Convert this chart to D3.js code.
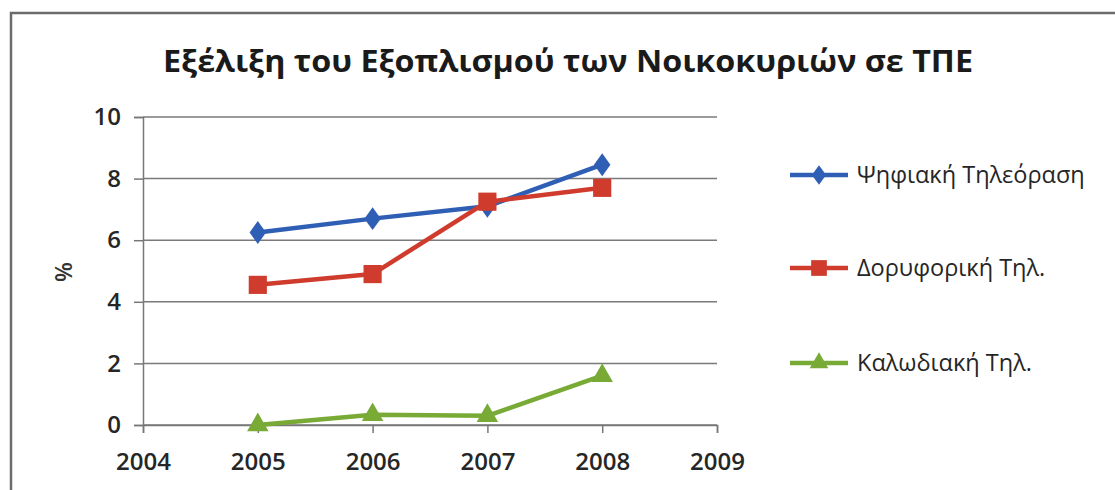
<!DOCTYPE html>
<html>
<head>
<meta charset="utf-8">
<script src="https://cdn.jsdelivr.net/npm/d3@7"></script>
<style>
	body { margin: 0; background: #fff; }
	text { font-family: "Open Sans", "Noto Sans", sans-serif; fill: #262626; }
</style>
</head>
<body>
<div id="chart"></div>
<script>
const years = [2005, 2006, 2007, 2008];
const seriesNames = ['Ψηφιακή Τηλεόραση', 'Δορυφορική Τηλ.', 'Καλωδιακή Τηλ.'];
const digitalTv = [6.25, 6.7, 7.1, 8.45];
const satelliteTv = [4.55, 4.9, 7.25, 7.7];
const cableTv = [0, 0.33, 0.3, 1.6];
const yTicks = [0, 2, 4, 6, 8, 10];
const xTicks = [2004, 2005, 2006, 2007, 2008, 2009];
const title = 'Εξέλιξη του Εξοπλισμού των Νοικοκυριών σε ΤΠΕ';

const width = 1115;
const height = 490;
const margin = { top: 117, right: 398, bottom: 65, left: 143 };

const svg = d3.select('#chart').append('svg')
	.attr('width', width)
	.attr('height', height);

// outer frame, runs off the right and bottom edge like the scan
svg.append('rect')
	.attr('x', 11).attr('y', 13)
	.attr('width', 1200).attr('height', 600)
	.attr('fill', 'none')
	.attr('stroke', '#6b6b6b')
	.attr('stroke-width', 2.5);

svg.append('text')
	.attr('x', 568).attr('y', 72)
	.attr('text-anchor', 'middle')
	.attr('textLength', 810)
	.attr('lengthAdjust', 'spacingAndGlyphs')
	.style('font-size', '30px')
	.style('font-weight', 'bold')
	.style('fill', '#1a1a1a')
	.text(title);

const x = d3.scaleLinear()
	.domain([2004, 2009])
	.range([margin.left, width - margin.right]);
const y = d3.scaleLinear()
	.domain([0, 10])
	.range([height - margin.bottom, margin.top]);

// y ticks, gridlines below
const yAxis = svg.append('g')
	.attr('transform', `translate(${margin.left},0)`)
	.call(d3.axisLeft(y).tickValues(yTicks).tickSize(9).tickPadding(13).tickFormat(d3.format('d')));
yAxis.select('.domain').attr('stroke', '#777').attr('stroke-width', 1.5);
yAxis.selectAll('.tick line').attr('stroke', '#777').attr('stroke-width', 1.5);
yAxis.selectAll('.tick text')
	.style('font-size', '24px')
	.style('font-family', '"Open Sans", sans-serif')
	.style('font-weight', 600)
	.attr('fill', '#333');

svg.append('g')
	.selectAll('line')
	.data(yTicks)
	.enter().append('line')
		.attr('x1', margin.left)
		.attr('x2', width - margin.right)
		.attr('y1', d => y(d))
		.attr('y2', d => y(d))
		.attr('stroke', '#7a7a7a')
		.attr('stroke-width', 1.5);

const xAxis = svg.append('g')
	.attr('transform', `translate(0,${height - margin.bottom})`)
	.call(d3.axisBottom(x).tickValues(xTicks).tickSize(8).tickPadding(20).tickFormat(d3.format('d')));
xAxis.select('.domain').attr('stroke', '#777').attr('stroke-width', 1.5);
xAxis.selectAll('.tick line').attr('stroke', '#777').attr('stroke-width', 1.5);
xAxis.selectAll('.tick text')
	.style('font-size', '24px')
	.style('font-family', '"Open Sans", sans-serif')
	.style('font-weight', 600)
	.attr('fill', '#333');

svg.append('text')
	.attr('transform', 'translate(72,272) rotate(-90)')
	.attr('text-anchor', 'middle')
	.style('font-size', '23px')
	.style('font-weight', 600)
	.style('fill', '#333')
	.text('%');

const series = [
	{ name: seriesNames[0], values: digitalTv, color: '#2f5fb5', symbol: d3.symbolDiamond, size: 150 },
	{ name: seriesNames[1], values: satelliteTv, color: '#cf3c2e', symbol: d3.symbolSquare, size: 330 },
	{ name: seriesNames[2], values: cableTv, color: '#78aa35', symbol: d3.symbolTriangle, size: 200 },
];

const line = d3.line()
	.x((d, i) => x(years[i]))
	.y(d => y(d));

series.forEach(s => {
	const g = svg.append('g');
	g.append('path')
		.attr('d', line(s.values))
		.attr('fill', 'none')
		.attr('stroke', s.color)
		.attr('stroke-width', 4.5)
		.attr('stroke-linejoin', 'round');
	g.selectAll('path.marker')
		.data(s.values)
		.enter().append('path')
			.attr('class', 'marker')
			.attr('d', d3.symbol().type(s.symbol).size(s.size))
			.attr('transform', (d, i) => `translate(${x(years[i])},${y(d)})` + (s.symbol === d3.symbolDiamond ? ' scale(1.25,1)' : ''))
			.attr('fill', s.color);
});

// legend
const legendY = [175, 268, 363];
const legend = svg.append('g')
	.selectAll('g')
	.data(series)
	.enter().append('g')
		.attr('transform', (d, i) => `translate(790,${legendY[i]})`);
legend.append('line')
	.attr('x1', 0).attr('x2', 58)
	.attr('stroke', d => d.color)
	.attr('stroke-width', 4.5);
legend.append('path')
	.attr('d', d => d3.symbol().type(d.symbol).size(d.size * 0.75)())
	.attr('transform', d => 'translate(29,0)' + (d.symbol === d3.symbolDiamond ? ' scale(1.25,1)' : ''))
	.attr('fill', d => d.color);
legend.append('text')
	.attr('x', 67)
	.attr('dy', '0.35em')
	.style('font-size', '23.5px')
	.style('fill', '#262626')
	.text(d => d.name);
</script>
</body>
</html>
